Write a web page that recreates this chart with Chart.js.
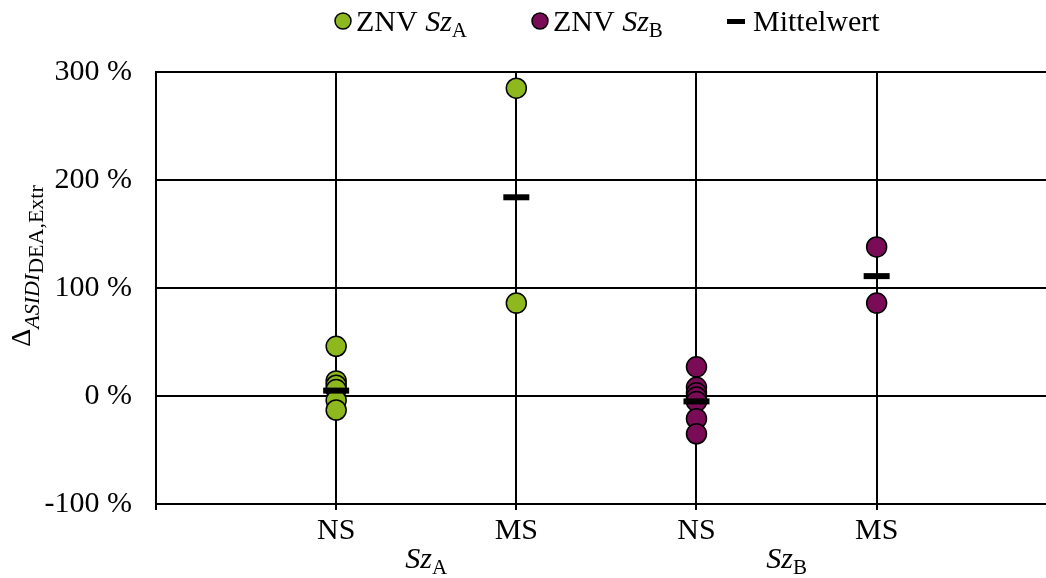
<!DOCTYPE html>
<html>
<head>
<meta charset="utf-8">
<script src="https://cdn.jsdelivr.net/npm/chart.js@4.4.1/dist/chart.umd.min.js"></script>
<style>
  html, body { margin: 0; padding: 0; background: #fff; overflow: hidden; }
  #wrap { position: relative; width: 1046px; height: 578px; }
</style>
</head>
<body>
<div id="wrap"><canvas id="deltaChart"></canvas></div>
<script>
// categories sit at x = 1..4, Sz A on the first pair, Sz B on the second
const categories = ['NS', 'MS', 'NS', 'MS'];
const groupLetters = ['A', 'B'];

// Delta ASIDI (DEA, Extr) in %
const szA_NS = [46, 14, 10, 6, -4, -13];
const szA_MS = [285, 86];
const szB_NS = [27, 8, 3, -1, -5, -21, -35];
const szB_MS = [138, 86];
const means = [5, 184, -5, 111];

const green = '#8DB81E';
const purple = '#7A0B57';
const serif = "'Liberation Serif', 'Times New Roman', serif";

const toPoints = (vals, x) => vals.map(v => ({ x: x, y: v }));

// draws a run of text pieces one after another, returns the end x
const drawParts = (ctx, parts, x, y) => {
    let cx = x;
    parts.forEach(p => {
        ctx.font = p.font;
        ctx.fillText(p.text, cx, y + (p.dy || 0));
        cx += ctx.measureText(p.text).width;
    });
    return cx;
};

const partsWidth = (ctx, parts) => parts.reduce((w, p) => {
    ctx.font = p.font;
    return w + ctx.measureText(p.text).width;
}, 0);

const szParts = (letter, size) => [
    { text: 'Sz', font: `italic ${size}px ${serif}` },
    { text: letter, font: `${Math.round(size * 0.7)}px ${serif}`, dy: 6 },
];

const extraText = {
    id: 'extraText',
    afterDraw(chart) {
        const ctx = chart.ctx;
        const xs = chart.scales.x;
        ctx.save();
        ctx.fillStyle = '#000';
        ctx.textBaseline = 'alphabetic';
        ctx.textAlign = 'left';

        // legend
        const legendY = 21;
        const marker = (x, color) => {
            ctx.beginPath();
            ctx.arc(x, legendY, 8, 0, Math.PI * 2);
            ctx.fillStyle = color;
            ctx.fill();
            ctx.lineWidth = 1.5;
            ctx.strokeStyle = '#000';
            ctx.stroke();
            ctx.fillStyle = '#000';
        };
        marker(343, green);
        drawParts(ctx, [{ text: 'ZNV ', font: `30px ${serif}` }, ...szParts('A', 30)], 356, legendY + 10);
        marker(540, purple);
        drawParts(ctx, [{ text: 'ZNV ', font: `30px ${serif}` }, ...szParts('B', 30)], 553, legendY + 10);
        ctx.fillRect(727, legendY - 2, 18, 5);
        drawParts(ctx, [{ text: 'Mittelwert', font: `30px ${serif}` }], 753, legendY + 10);

        // group labels under the category pairs
        groupLetters.forEach((g, i) => {
            const cx = (xs.getPixelForValue(1 + i * 2) + xs.getPixelForValue(2 + i * 2)) / 2;
            const parts = szParts(g, 30);
            const w = partsWidth(ctx, parts);
            drawParts(ctx, parts, cx - w / 2, 568);
        });

        // y axis title
        const title = [
            { text: '\u0394', font: `28px ${serif}` },
            { text: 'ASIDI', font: `italic 22px ${serif}`, dy: 9 },
            { text: 'DEA,Extr', font: `22px ${serif}`, dy: 13 },
        ];
        const tw = partsWidth(ctx, title);
        ctx.translate(30, 266);
        ctx.rotate(-Math.PI / 2);
        drawParts(ctx, title, -tw / 2, 0);
        ctx.restore();
    }
};

const datasets = [
    {
        label: 'Mittelwert',
        data: means.map((v, i) => ({ x: i + 1, y: v })),
        pointStyle: 'line',
        pointRadius: 13,
        pointBorderWidth: 6,
        borderColor: '#000',
        backgroundColor: '#000',
        order: 0,
    },
    {
        label: 'ZNV SzA',
        data: [...toPoints(szA_NS, 1), ...toPoints(szA_MS, 2)],
        backgroundColor: green,
        borderColor: '#000',
        pointBorderWidth: 1.5,
        pointRadius: 10,
        order: 1,
    },
    {
        label: 'ZNV SzB',
        data: [...toPoints(szB_NS, 3), ...toPoints(szB_MS, 4)],
        backgroundColor: purple,
        borderColor: '#000',
        pointBorderWidth: 1.5,
        pointRadius: 10,
        order: 1,
    },
];

const chartOptions = {
    responsive: true,
    maintainAspectRatio: false,
    animation: false,
    events: [],
    layout: {
        autoPadding: false,
        padding: { left: 0, right: 0, top: 72, bottom: 0 },
    },
    plugins: {
        legend: { display: false },
        tooltip: { enabled: false },
    },
    scales: {
        x: {
            type: 'linear',
            min: 0,
            max: 4.94,
            afterFit: s => {
                s.height = 74;
                s.paddingLeft = 0;
                s.paddingRight = 0;
            },
            grid: { color: '#000', lineWidth: 2, tickLength: 6 },
            border: { color: '#000', width: 2 },
            ticks: {
                stepSize: 1,
                includeBounds: false,
                autoSkip: false,
                maxRotation: 0,
                padding: 3,
                color: '#000',
                font: { family: serif, size: 30 },
                callback: v => categories[v - 1] || '',
            },
        },
        y: {
            min: -100,
            max: 300,
            afterFit: s => { s.width = 156; },
            grid: { color: '#000', lineWidth: 2, drawTicks: false },
            border: { color: '#000', width: 2 },
            ticks: {
                stepSize: 100,
                padding: 24,
                color: '#000',
                font: { family: serif, size: 30 },
                callback: v => v + ' %',
            },
        },
    },
};

new Chart(document.getElementById('deltaChart'), {
    type: 'scatter',
    data: { datasets: datasets },
    options: chartOptions,
    plugins: [extraText],
});
</script>
</body>
</html>
